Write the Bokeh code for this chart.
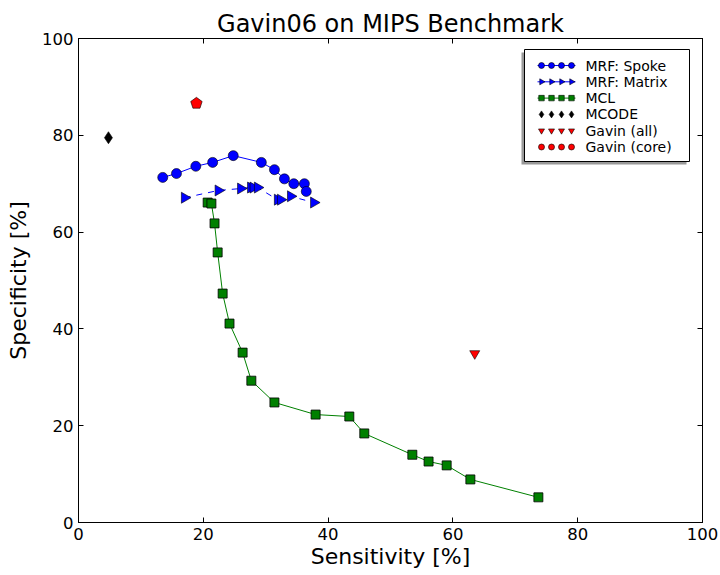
import math
from bokeh.plotting import figure
from bokeh.models import (LinearAxis, Range1d, FixedTicker, CustomJSTickFormatter)
from bokeh.core.properties import value
from bokeh.embed import file_html
from bokeh.resources import INLINE

# ---- data ----
spoke_sens = [13.5, 15.7, 18.8, 21.5, 24.8, 29.3, 31.4, 33.0, 34.5, 36.2, 36.5]
spoke_spec = [71.3, 72.1, 73.6, 74.4, 75.8, 74.4, 72.9, 71.0, 70.0, 70.0, 68.4]
matrix_sens = [17.0, 22.4, 26.0, 27.6, 28.0, 28.7, 31.9, 32.4, 34.0, 37.7]
matrix_spec = [67.1, 68.6, 69.0, 69.2, 69.2, 69.2, 66.7, 66.7, 67.4, 66.1]
mcl_sens = [20.7, 21.3, 21.8, 22.3, 23.1, 24.2, 26.3, 27.7, 31.4, 38.0, 43.4,
            45.8, 53.5, 56.1, 59.0, 62.8, 73.7]
mcl_spec = [66.1, 65.9, 61.8, 55.8, 47.3, 41.1, 35.1, 29.3, 24.8, 22.3, 21.9,
            18.4, 14.0, 12.6, 11.8, 8.9, 5.2]
mcode_sens = [4.8]
mcode_spec = [79.5]
gavin_all_sens = [63.5]
gavin_all_spec = [34.9]
gavin_core_sens = [18.9]
gavin_core_spec = [86.6]
ticks = [0, 20, 40, 60, 80, 100]
legend_labels = ["MRF: Spoke", "MRF: Matrix", "MCL", "MCODE", "Gavin (all)",
                 "Gavin (core)"]

FONT = "DejaVu Sans"
X0, X1 = 0, 100
Y0, Y1 = 0, 100
# frame geometry in pixels (used for placing the hand-drawn legend)
FL, FR, FT, FB = 78, 702, 38, 522


def px_x(px):
    return X0 + (px - FL) / (FR - FL) * (X1 - X0)


def px_y(py):
    return Y0 + (FB - py) / (FB - FT) * (Y1 - Y0)


p = figure(width=720, height=575, output_backend="svg", toolbar_location=None,
           x_range=Range1d(X0, X1), y_range=Range1d(Y0, Y1),
           min_border_left=FL, min_border_right=720 - FR, min_border_top=FT,
           min_border_bottom=575 - FB, title="Gavin06 on MIPS Benchmark")
p.title.text_font = FONT
p.title.text_font_size = "24px"
p.title.text_font_style = "normal"
p.title.align = "center"
p.title.text_color = "black"
p.title.standoff = 2
p.grid.visible = False
p.outline_line_color = "black"
p.outline_line_width = 1
p.background_fill_color = "white"
p.border_fill_color = "white"

for ax in [p.xaxis[0], p.yaxis[0]]:
    ax.ticker = FixedTicker(ticks=ticks)
    ax.major_tick_in = 5
    ax.major_tick_out = 0
    ax.minor_tick_line_color = None
    ax.major_label_text_font = FONT
    ax.major_label_text_font_size = "16.5px"
    ax.major_label_text_color = "black"
    ax.axis_label_text_font = FONT
    ax.axis_label_text_font_size = "22px"
    ax.axis_label_text_font_style = "normal"
    ax.axis_label_text_color = "black"
    ax.axis_line_color = "black"
    ax.major_tick_line_color = "black"
p.xaxis[0].axis_label = "Sensitivity [%]"
p.yaxis[0].axis_label = "Specificity [%]"
p.xaxis[0].axis_label_standoff = 1
p.yaxis[0].axis_label_standoff = 8

for side in ["above", "right"]:
    ax = LinearAxis(ticker=FixedTicker(ticks=ticks),
                    formatter=CustomJSTickFormatter(code="return ''"),
                    major_tick_in=5, major_tick_out=0, minor_tick_line_color=None,
                    major_label_standoff=0, axis_line_color="black",
                    major_tick_line_color="black")
    p.add_layout(ax, side)

# ---- series ----
p.line(spoke_sens, spoke_spec, line_color="blue", line_width=1)
p.scatter(spoke_sens, spoke_spec, marker="circle", size=10,
          fill_color="blue", line_color="black", line_width=0.6)

p.line(matrix_sens, matrix_spec, line_color="blue", line_width=1,
       line_dash="6 6")
p.scatter(matrix_sens, matrix_spec, marker="triangle", size=11,
          angle=-math.pi / 2, fill_color="blue", line_color="black",
          line_width=0.6)

p.line(mcl_sens, mcl_spec, line_color="green", line_width=1)
p.scatter(mcl_sens, mcl_spec, marker="square", size=9,
          fill_color="green", line_color="black", line_width=0.8)

p.scatter(mcode_sens, mcode_spec, marker="diamond", size=12,
          fill_color="black", line_color="black", line_width=0.6)

p.scatter(gavin_all_sens, gavin_all_spec, marker="inverted_triangle",
          size=10, fill_color="red", line_color="black", line_width=0.6)

p.ngon(x=gavin_core_sens, y=gavin_core_spec, radius=6,
       radius_units="screen", n=5, fill_color="red",
       line_color="black", line_width=0.6)

# ---- legend (drawn by hand, matplotlib style with 4 sample markers) ----
LB_L, LB_R, LB_T, LB_B = 524, 689, 49, 161
SH = 3
p.quad(left=[px_x(LB_L - SH)], right=[px_x(LB_R - SH)], top=[px_y(LB_T + SH)],
       bottom=[px_y(LB_B + SH)], fill_color="#555555", line_color=None,
       fill_alpha=0.6)
p.quad(left=[px_x(LB_L)], right=[px_x(LB_R)], top=[px_y(LB_T)],
       bottom=[px_y(LB_B)], fill_color="white", line_color="black", line_width=1)

row_py = [65 + 16.3 * i for i in range(len(legend_labels))]
mk_px = [541, 551, 561, 571]
line_px = (537, 575)
styles = [
    dict(marker="circle", size=6, fill_color="blue", line="solid", lc="blue"),
    dict(marker="triangle", size=6, fill_color="blue", line="dashed", lc="blue",
         angle=-math.pi / 2),
    dict(marker="square", size=5.5, fill_color="green", line="solid", lc="green"),
    dict(marker="diamond", size=7, fill_color="black", line=None, lc=None),
    dict(marker="inverted_triangle", size=6, fill_color="red", line=None, lc=None),
    dict(marker="circle", size=6, fill_color="red", line=None, lc=None),
]
for py, st in zip(row_py, styles):
    yy = px_y(py)
    if st["line"] is not None:
        p.line([px_x(line_px[0]), px_x(line_px[1])], [yy, yy],
               line_color=st["lc"], line_width=1)
    p.scatter([px_x(m) for m in mk_px], [yy] * len(mk_px), marker=st["marker"],
              size=st["size"], angle=st.get("angle", 0.0),
              fill_color=st["fill_color"], line_color="black", line_width=0.6)
p.text(x=[px_x(585)] * len(legend_labels), y=[px_y(py) for py in row_py],
       text=legend_labels, text_font=value(FONT), text_font_size="14px",
       text_baseline="middle", text_align="left", text_color="black")

open("out.html", "w").write(file_html(p, INLINE))
